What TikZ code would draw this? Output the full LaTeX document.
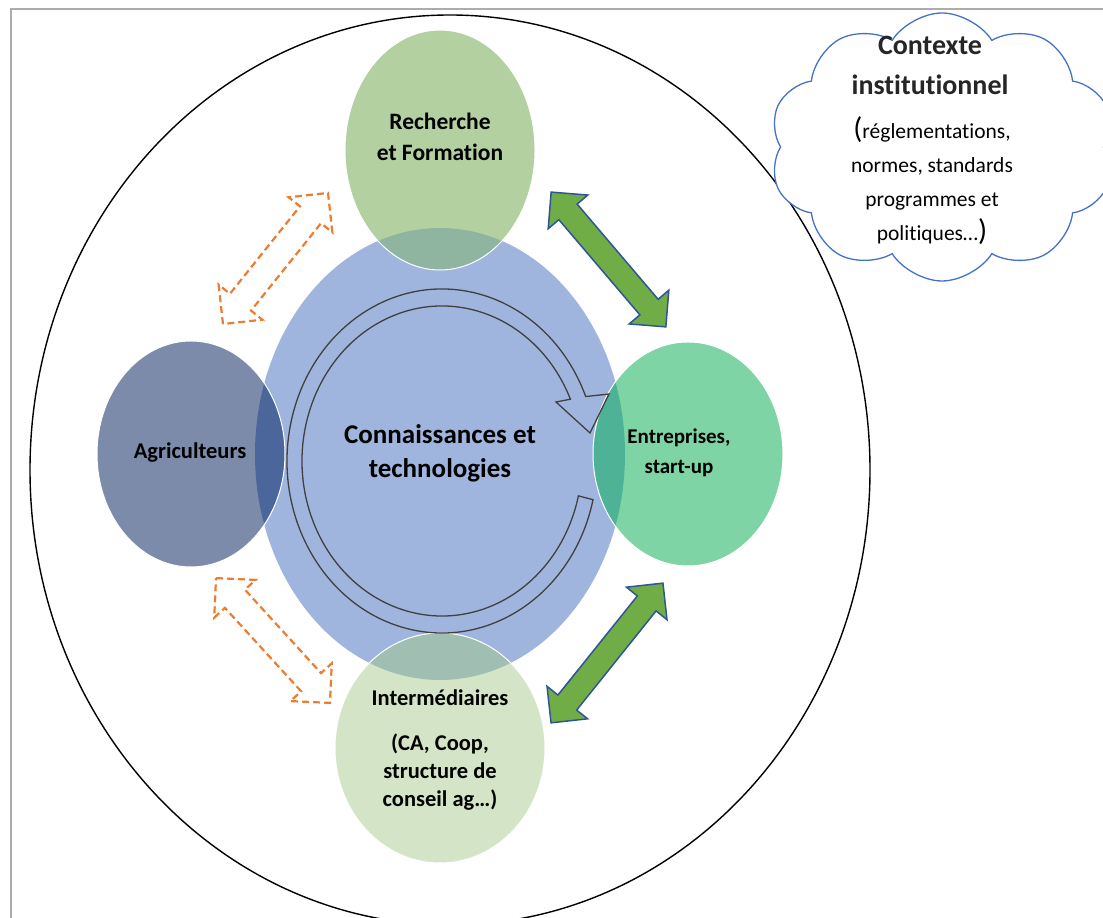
\documentclass[tikz,border=0pt]{standalone}
\usepackage{fontspec}
\setmainfont{Carlito}[Ligatures=NoCommon]
\usetikzlibrary{shapes.symbols}

\definecolor{bleuCentre}{RGB}{160,181,222}
\definecolor{vertRech}{RGB}{178,208,160}
\definecolor{grisAgri}{RGB}{124,139,170}
\definecolor{vertEntr}{RGB}{127,212,165}
\definecolor{vertInter}{RGB}{211,229,198}
\definecolor{rechBleu}{RGB}{143,180,160}
\definecolor{agriBleu}{RGB}{75,102,155}
\definecolor{entrBleu}{RGB}{78,178,150}
\definecolor{interBleu}{RGB}{160,190,178}
\definecolor{orangeF}{RGB}{237,125,49}
\definecolor{vertF}{RGB}{112,173,71}
\definecolor{bordF}{RGB}{47,85,151}
\definecolor{bleuNuage}{RGB}{68,114,196}
\definecolor{grisCycle}{RGB}{64,64,64}

% style, centre, angle, demi-longueur, tete, demi-largeur
\newcommand{\flechedouble}[6]{%
	\draw[#1,shift={(#2)},rotate=#3] (-#4,0) -- (-#4+#5,#5) -- (-#4+#5,#6) -- (#4-#5,#6) -- (#4-#5,#5) -- (#4,0)
		-- (#4-#5,-#5) -- (#4-#5,-#6) -- (-#4+#5,-#6) -- (-#4+#5,-#5) -- cycle;}

\begin{document}
\begin{tikzpicture}[x=1pt,y=1pt,
	lbl/.style={font=\fontsize{22.5}{30}\selectfont\bfseries,align=center},
	disque/.style={draw=white,line width=1pt},
	flecheV/.style={fill=vertF,draw=bordF,line width=1.5pt,line join=miter},
	flecheO/.style={fill=white,draw=orangeF,line width=2.2pt,dash pattern=on 7pt off 4pt,line join=miter}]

	\useasboundingbox[fill=white] (0,0) rectangle (1103,918);
	\draw[gray!65,line width=1.5pt] (11,-10) -- (11,909) -- (1120,909);
	\draw[line width=1.4pt] (450,448) ellipse [x radius=420,y radius=455];

	\coordinate (c) at (440,464);
	\coordinate (r) at (440,768);
	\coordinate (a) at (191,464);
	\coordinate (e) at (688,464);
	\coordinate (i) at (440,170);
	\coordinate (b) at (442,457);

	\fill[bleuCentre] (c) ellipse [x radius=185,y radius=226];
	\fill[vertRech] (r) ellipse [x radius=95,y radius=120];
	\fill[grisAgri] (a) ellipse [x radius=94,y radius=113];
	\fill[vertEntr] (e) ellipse [x radius=95,y radius=112];
	\fill[vertInter] (i) ellipse [x radius=105,y radius=115];
	\begin{scope}
		\clip (c) ellipse [x radius=185,y radius=226];
		\fill[rechBleu] (r) ellipse [x radius=95,y radius=120];
		\fill[agriBleu] (a) ellipse [x radius=94,y radius=113];
		\fill[entrBleu] (e) ellipse [x radius=95,y radius=112];
		\fill[interBleu] (i) ellipse [x radius=105,y radius=115];
	\end{scope}
	\draw[disque] (r) ellipse [x radius=95,y radius=120];
	\draw[disque] (a) ellipse [x radius=94,y radius=113];
	\draw[disque] (e) ellipse [x radius=95,y radius=112];
	\draw[disque] (i) ellipse [x radius=105,y radius=115];

	% cycle
	\draw[grisCycle,line width=1.3pt,line join=miter] (b) ++(-13:155 and 172)
		arc[start angle=-13,end angle=-338,x radius=155,y radius=172]
		-- (609,524) -- (590,485) -- (556,516) -- ([shift={(23.5:140 and 155)}]b)
		arc[start angle=23.5,end angle=347,x radius=140,y radius=155] -- cycle;

	\node[lbl,font=\fontsize{27}{34}\selectfont\bfseries] (conn) at (440,465) {Connaissances et\\technologies};
	\node[lbl,font=\fontsize{23.5}{31}\selectfont\bfseries] (rech) at (440,781) {Recherche\\et Formation};
	\node[lbl] (agri) at (190,465) {Agriculteurs};
	\node[lbl,font=\fontsize{21}{30}\selectfont\bfseries] (entr) at (679,465) {Entreprises,\\start-up};
	\node[lbl,font=\fontsize{22.5}{28}\selectfont\bfseries] (inter) at (440,168) {Intermédiaires\\[17pt](CA, Coop,\\structure de\\conseil ag…)};

	\coordinate (fAR) at (275.5,659.5);
	\coordinate (fAI) at (273,277.5);
	\coordinate (fRE) at (608.5,658.5);
	\coordinate (fEI) at (607,265);
	\flechedouble{flecheO}{fAR}{51.3}{84}{28}{13.5}
	\flechedouble{flecheO}{fAI}{-47.6}{84.5}{28}{13.5}
	\flechedouble{flecheV}{fRE}{-49.6}{88.5}{26}{12}
	\flechedouble{flecheV}{fEI}{51.3}{89.5}{26}{12}

	% contexte
	\node[cloud,cloud puffs=10,cloud puff arc=115,cloud ignores aspect,minimum width=345,minimum height=268,
		draw=bleuNuage,fill=white,line width=1.3pt] (nuage) at (942,771) {};
	\node[font=\fontsize{28}{40}\selectfont\bfseries,align=center,text=black!85] (titre) at (930,853) {Contexte\\institutionnel};
	\node[font=\fontsize{21.5}{34}\selectfont,align=center] (texte) at (932,737)
		{{\fontsize{30}{34}\selectfont(}réglementations,\\normes, standards\\programmes et\\politiques…{\fontsize{30}{34}\selectfont)}};
\end{tikzpicture}
\end{document}
